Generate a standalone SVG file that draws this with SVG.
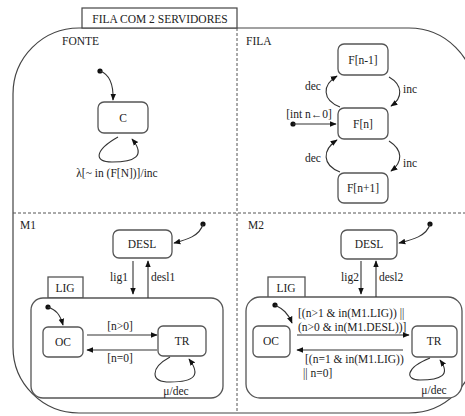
<svg xmlns="http://www.w3.org/2000/svg" width="465" height="416" viewBox="0 0 465 416" font-family="'Liberation Serif', 'DejaVu Serif', serif">
<style>
text{font-family:'Liberation Serif','DejaVu Serif',serif;font-size:11.5px;fill:#222}
.m{text-anchor:middle}
.st{fill:#fff;stroke:#555;stroke-width:1.3}
.ln{fill:none;stroke:#333;stroke-width:1.1}
.dash{fill:none;stroke:#555;stroke-width:1;stroke-dasharray:3,2}
.dot{fill:#111}
</style>
<defs>
<marker id="ah" viewBox="0 0 10 10" refX="9" refY="5" markerWidth="7" markerHeight="7" orient="auto" markerUnits="userSpaceOnUse">
<path d="M0,1 L10,5 L0,9 z" fill="#111"/>
</marker>
</defs>
<g id="outer">
<rect x="13" y="28" width="462" height="385" rx="66" ry="66" fill="#fff" stroke="#444" stroke-width="1.2"/>
<rect x="82" y="8" width="155" height="20" fill="#fff" stroke="#444" stroke-width="1.2"/>
<text x="160" y="23" class="m">FILA COM 2 SERVIDORES</text>
<line x1="237" y1="28" x2="237" y2="413" class="dash"/>
<line x1="13" y1="213" x2="465" y2="213" class="dash"/>
<text x="62" y="45">FONTE</text>
<text x="246" y="45">FILA</text>
<text x="20" y="229">M1</text>
<text x="248" y="229">M2</text>
</g>
<g id="C"><rect x="98" y="102" width="50" height="31" rx="6" class="st"/><text x="123" y="122" class="m">C</text></g>
<g id="Fn-1"><rect x="338" y="44" width="50" height="31" rx="6" class="st"/><text x="363" y="64" class="m">F[n-1]</text></g>
<g id="Fn"><rect x="338" y="108" width="50" height="31" rx="6" class="st"/><text x="363" y="128" class="m">F[n]</text></g>
<g id="Fn+1"><rect x="338" y="173" width="50" height="30" rx="6" class="st"/><text x="363" y="192" class="m">F[n+1]</text></g>
<g id="M1-LIG">
<rect x="48" y="277" width="35" height="21" class="st"/><text x="65" y="292" class="m">LIG</text>
<rect x="31" y="298" width="192" height="100" rx="12" class="st"/>
</g>
<g id="M1-DESL"><rect x="113" y="230" width="59" height="28" rx="6" class="st"/><text x="142" y="248" class="m">DESL</text></g>
<g id="M1-OC"><rect x="43" y="327" width="40" height="30" rx="5" class="st"/><text x="63" y="346" class="m">OC</text></g>
<g id="M1-TR"><rect x="158" y="326" width="48" height="30" rx="5" class="st"/><text x="182" y="345" class="m">TR</text></g>
<g id="M2-LIG">
<rect x="268" y="277" width="37" height="21" class="st"/><text x="286" y="292" class="m">LIG</text>
<rect x="246" y="297" width="216" height="101" rx="14" class="st"/>
</g>
<g id="M2-DESL"><rect x="341" y="230" width="56" height="29" rx="6" class="st"/><text x="369" y="248" class="m">DESL</text></g>
<g id="M2-OC"><rect x="253" y="326" width="37" height="31" rx="5" class="st"/><text x="271" y="345" class="m">OC</text></g>
<g id="M2-TR"><rect x="412" y="326" width="45" height="31" rx="5" class="st"/><text x="434" y="345" class="m">TR</text></g>
<g id="connectors">
<circle cx="100" cy="71" r="2.6" class="dot"/>
<path d="M100,71 Q114,76 113,100" class="ln" marker-end="url(#ah)"/>
<path d="M118,137 C95,150 93,162 112,162 C135,162 146,156 132,139" class="ln" marker-end="url(#ah)"/>
<text x="117" y="177" class="m">λ[~ in (F[N])]/inc</text>
<path d="M340,107 C322,100 322,85 337,76" class="ln" marker-end="url(#ah)"/>
<path d="M389,77 C403,85 403,98 391,106" class="ln" marker-end="url(#ah)"/>
<path d="M340,172 C322,165 322,150 337,140" class="ln" marker-end="url(#ah)"/>
<path d="M389,141 C403,150 403,162 391,171" class="ln" marker-end="url(#ah)"/>
<text x="313" y="90" class="m">dec</text>
<text x="410" y="93" class="m">inc</text>
<text x="313" y="162" class="m">dec</text>
<text x="410" y="167" class="m">inc</text>
<circle cx="293" cy="124" r="2.6" class="dot"/>
<line x1="293" y1="124" x2="336" y2="124" class="ln" marker-end="url(#ah)"/>
<text x="309" y="118" class="m">[int n←0]</text>
<circle cx="203" cy="224" r="2.6" class="dot"/>
<path d="M203,224 C200,236 186,240 174,243" class="ln" marker-end="url(#ah)"/>
<line x1="133" y1="261" x2="133" y2="294" class="ln" marker-end="url(#ah)"/>
<line x1="148" y1="298" x2="148" y2="261" class="ln" marker-end="url(#ah)"/>
<text x="119" y="281" class="m">lig1</text>
<text x="151" y="281">desl1</text>
<circle cx="48" cy="307" r="2.6" class="dot"/>
<path d="M48,307 C56,310 60,314 63,325" class="ln" marker-end="url(#ah)"/>
<line x1="87" y1="335" x2="157" y2="335" class="ln" marker-end="url(#ah)"/>
<text x="120" y="330" class="m">[n&gt;0]</text>
<line x1="157" y1="350" x2="87" y2="350" class="ln" marker-end="url(#ah)"/>
<text x="120" y="362" class="m">[n=0]</text>
<path d="M170,357 C150,368 150,382 170,382 C195,382 201,375 189,359" class="ln" marker-end="url(#ah)"/>
<text x="176" y="395" class="m">μ/dec</text>
<circle cx="430" cy="224" r="2.6" class="dot"/>
<path d="M430,224 C427,236 412,240 399,243" class="ln" marker-end="url(#ah)"/>
<line x1="361" y1="261" x2="361" y2="294" class="ln" marker-end="url(#ah)"/>
<line x1="376" y1="297" x2="376" y2="261" class="ln" marker-end="url(#ah)"/>
<text x="350" y="281" class="m">lig2</text>
<text x="379" y="281">desl2</text>
<circle cx="275" cy="305" r="2.6" class="dot"/>
<path d="M275,305 C283,309 288,313 292,323" class="ln" marker-end="url(#ah)"/>
<line x1="297" y1="335" x2="409" y2="335" class="ln" marker-end="url(#ah)"/>
<text x="298" y="317">[(n&gt;1 &amp; in(M1.LIG)) ||</text>
<text x="298" y="331">(n&gt;0 &amp; in(M1.DESL))]</text>
<line x1="403" y1="350" x2="297" y2="350" class="ln" marker-end="url(#ah)"/>
<text x="305" y="363">[(n=1 &amp; in(M1.LIG))</text>
<text x="303" y="377">|| n=0]</text>
<path d="M430,358 C405,368 405,380 420,380 C441,380 451,375 440,360" class="ln" marker-end="url(#ah)"/>
<text x="434" y="394" class="m">μ/dec</text>
</g>
</svg>
